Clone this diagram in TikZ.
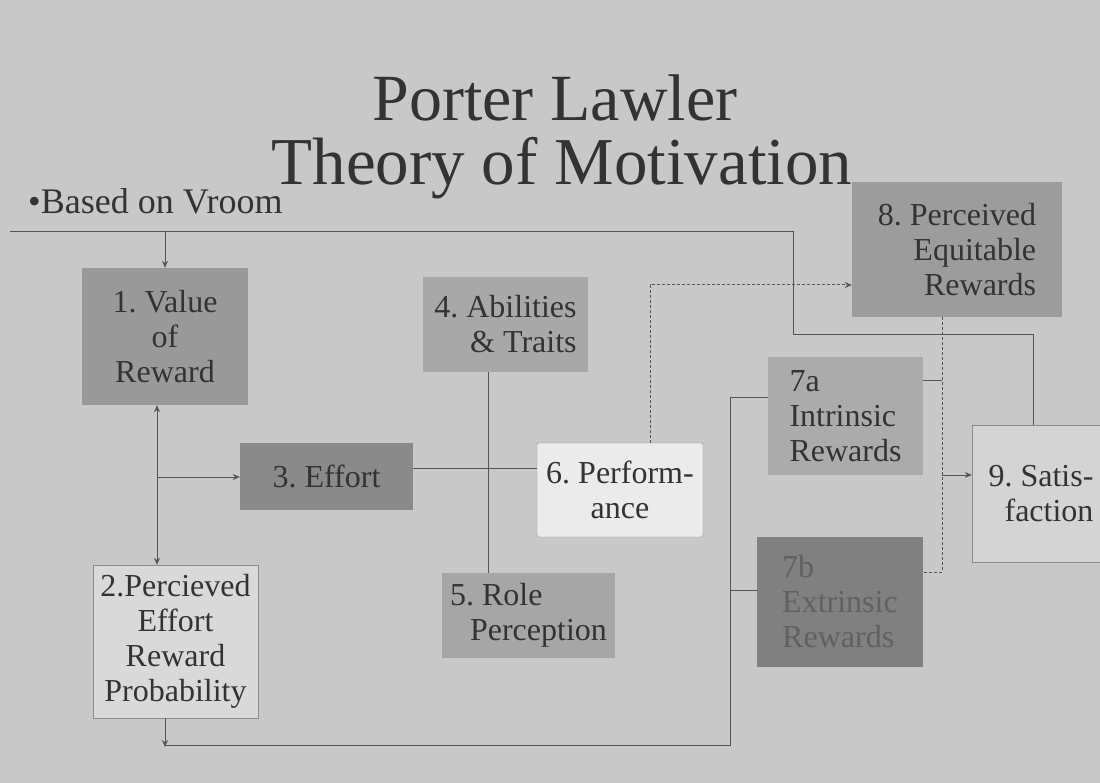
\documentclass[tikz,border=0pt]{standalone}
\usepackage{fontspec}
\setmainfont{Liberation Serif}
\usetikzlibrary{arrows.meta}
\definecolor{bg}{HTML}{C8C8C8}
\definecolor{ink}{HTML}{333333}
\definecolor{wire}{HTML}{555555}
\frenchspacing
\begin{document}
\begin{tikzpicture}[x=1pt,y=-1pt,
  box/.style={inner sep=0pt, text=ink, font=\fontsize{32}{35}\selectfont},
  line/.style={draw=wire, line width=1pt},
  arr/.style={line, -{Stealth[length=7pt,width=6pt]}},
  dotline/.style={line, dash pattern=on 3pt off 2pt},
  dotarr/.style={dotline, -{Stealth[length=7pt,width=6pt]}},
  titletext/.style={text=ink, anchor=base, inner sep=0pt}]
\useasboundingbox (0,0) rectangle (1100,783);
\fill[bg] (0,0) rectangle (1100,783);

% titles
\node[titletext, font=\fontsize{66}{68}\selectfont] (t1) at (555,121) {Porter Lawler};
\node[titletext, font=\fontsize{67}{69}\selectfont] (t2) at (562,185) {Theory of Motivation};
\node[titletext, anchor=base west, font=\fontsize{36}{38}\selectfont] (t3) at (28,214) {•Based on Vroom};

% boxes
\node[box, fill=black!40, minimum width=166pt, minimum height=137pt, align=center] (b1) at (165,336.5) {1. Value\\of\\Reward};
\node[box, fill=black!15, draw=black!45, minimum width=165pt, minimum height=153pt, align=center] (b2) at (175.5,641.5) {2.Percieved\\Effort\\Reward\\Probability};
\node[box, fill=black!46, minimum width=173pt, minimum height=67pt, align=center] (b3) at (326.5,476.5) {3. Effort};
\node[box, fill=black!34, minimum width=165pt, minimum height=95pt, align=right] (b4) at (505.5,324.5) {4. Abilities\\\& Traits};
\node[box, fill=black!35, minimum width=173pt, minimum height=85pt, align=left] (b5) at (528.5,615.5) {5. Role\\\hspace*{20pt}Perception};
\node[box, fill=black!8, draw=black!45, rounded corners=2pt, minimum width=166pt, minimum height=94pt, align=center] (b6) at (620,490) {6. Perform-\\ance};
\node[box, fill=black!33, minimum width=155pt, minimum height=118pt, align=left] (b7a) at (845.5,416) {7a\\Intrinsic\\Rewards};
\node[box, fill=black!50, text=black!62, minimum width=166pt, minimum height=130pt, align=left] (b7b) at (840,602) {7b\\Extrinsic\\Rewards};
\node[box, fill=black!39, minimum width=210pt, minimum height=135pt, align=right] (b8) at (957,249.5) {8. Perceived\\Equitable\\Rewards};
\node[box, fill=black!17, draw=black!45, minimum width=138pt, minimum height=137pt, align=right] (b9) at (1041,493.5) {9. Satis-\\faction};

% junction coordinates
\coordinate (j1) at (157,477);
\coordinate (j2) at (488,468);
\coordinate (j3) at (650,285);
\coordinate (j4) at (730,745);
\coordinate (j5) at (730,397);
\coordinate (j6) at (730,590);
\coordinate (j7) at (942,572);
\coordinate (j8) at (942,380);
\coordinate (j9) at (942,475);
\coordinate (k1) at (793,335);
\coordinate (k2) at (10,232);
\coordinate (k3) at (165,232);
\coordinate (k4) at (165,745);

% feedback from satisfaction to value of reward
\draw[line] ([xshift=-8pt]b9.north) |- (k1) |- (k2);
\draw[arr] (k3) -- (b1.north);

% value of reward <-> effort-reward probability, and to effort
\draw[arr] (j1) -- ([xshift=-8pt]b1.south);
\draw[arr] (j1) -- (b2.north -| j1);
\draw[arr] (j1) -- (j1 -| b3.west);

% effort -> performance, abilities / role perception
\draw[line] (j2 -| b3.east) -- (j2 -| b6.west);
\draw[line] (b4.south -| j2) -- (b5.north -| j2);

% performance -> perceived equitable rewards
\draw[dotarr] ([xshift=30pt]b6.north) -- (j3) -- (j3 -| b8.west);

% rewards feedback to effort-reward probability
\draw[line] (j5 -| b7a.west) -- (j5) -- (j4) -- (k4);
\draw[line] (j6) -- (j6 -| b7b.west);
\draw[arr] ([xshift=-10.5pt]b2.south) -- ([yshift=-2pt]k4);

% rewards -> satisfaction
\draw[dotline] ([xshift=-15pt]b8.south) -- (j7) -- (j7 -| b7b.east);
\draw[line] (j8 -| b7a.east) -- (j8);
\draw[arr] (j9) -- (j9 -| b9.west);
\end{tikzpicture}
\end{document}
